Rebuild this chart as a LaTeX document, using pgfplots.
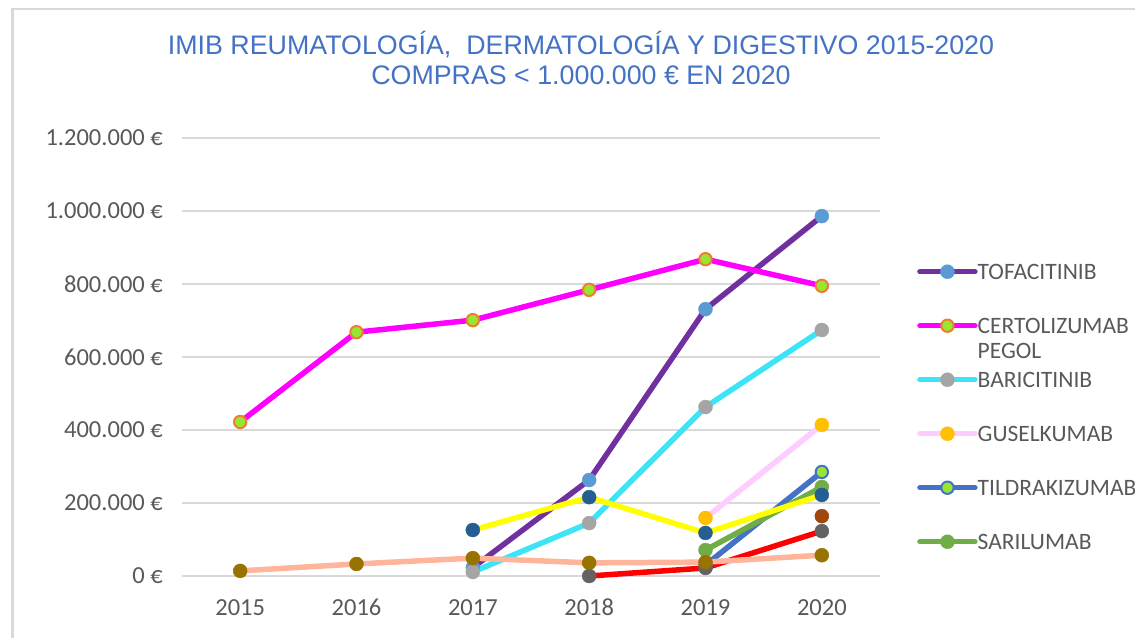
\documentclass[border=0pt]{standalone}
\usepackage{fontspec}
\setmainfont{Carlito}
\newfontfamily\titlefont{Liberation Sans}
\usepackage{pgfplots}
\pgfplotsset{compat=1.18}
\definecolor{gridgray}{HTML}{D9D9D9}
\definecolor{ticktext}{HTML}{595959}
\definecolor{titleblue}{HTML}{4472C4}
\definecolor{cPurple}{HTML}{7030A0}
\definecolor{cLtBlue}{HTML}{5B9BD5}
\definecolor{cMagenta}{HTML}{FF00FF}
\definecolor{cLime}{HTML}{99E632}
\definecolor{cOrange}{HTML}{ED7D31}
\definecolor{cCyan}{HTML}{3DE4F7}
\definecolor{cGray}{HTML}{A5A5A5}
\definecolor{cPink}{HTML}{FFCCFF}
\definecolor{cGold}{HTML}{FFC000}
\definecolor{cBlue}{HTML}{4472C4}
\definecolor{cGreen}{HTML}{70AD47}
\definecolor{cYellow}{HTML}{FFFF00}
\definecolor{cDkBlue}{HTML}{255E91}
\definecolor{cRed}{HTML}{FF0000}
\definecolor{cDkGray}{HTML}{636363}
\definecolor{cPeach}{HTML}{FFB59B}
\definecolor{cDkGold}{HTML}{997300}
\definecolor{cBrown}{HTML}{9E480E}
\pgfplotsset{
  solidser/.style n args={2}{draw=#1, mark=*, mark size=7pt, mark options={fill=#2, draw=#2, line width=0.4pt, solid}},
  ringser/.style n args={3}{draw=#1, mark=*, mark size=6.2pt, mark options={fill=#2, draw=#3, line width=2pt, solid}},
}
\begin{document}
\begin{tikzpicture}[x=1pt,y=1pt]
\useasboundingbox (0,0) rectangle (1135,638);
\draw[line width=2.5pt, gridgray] (12.5,0) -- (12.5,629) -- (1135,629);
\node[anchor=base, text=titleblue, font=\titlefont\fontsize{26.8}{30}\selectfont, inner sep=0pt] at (581,583) {IMIB REUMATOLOGÍA,\ \ DERMATOLOGÍA Y DIGESTIVO 2015-2020};
\node[anchor=base, text=titleblue, font=\titlefont\fontsize{26.8}{30}\selectfont, inner sep=0pt] at (581,553) {COMPRAS < 1.000.000 € EN 2020};
\begin{axis}[
  at={(182pt,62pt)}, anchor=south west, scale only axis,
  width=698pt, height=438pt,
  xmin=2014.5, xmax=2020.5, ymin=0, ymax=1200,
  clip=false,
  axis line style={draw=none}, tick style={draw=none},
  ymajorgrids, grid style={gridgray, line width=2pt},
  xtick={2015,2016,2017,2018,2019,2020},
  xticklabels={2015,2016,2017,2018,2019,2020},
  ytick={0,200,400,600,800,1000,1200},
  yticklabels={0 €,200.000 €,400.000 €,600.000 €,800.000 €,1.000.000 €,1.200.000 €},
  ticklabel style={font=\fontsize{24.5}{28}\selectfont, text=ticktext},
  yticklabel style={anchor=east, inner sep=0pt, xshift=-19pt},
  xticklabel style={anchor=north, inner sep=0pt, yshift=-23pt},
  every axis plot/.append style={line width=5.5pt, line join=round, line cap=round},
  legend style={at={(1.053,0.7123)}, anchor=north west, draw=none, fill=none, inner sep=0pt,
    row sep=39pt, font=\fontsize{23.5}{27}\selectfont, text=ticktext,
    nodes={inner sep=0pt, text height=15pt, text depth=0pt},
    /tikz/every even column/.append style={column sep=1pt}},
  legend cell align=left,
  legend image code/.code={\draw[mark repeat=2,mark phase=2] plot coordinates {(0pt,0pt) (27.5pt,0pt) (55pt,0pt)};},
]
\addplot[solidser={cPurple}{cLtBlue}] coordinates {(2017,23) (2018,263) (2019,731) (2020,986)};
\addlegendentry{TOFACITINIB}
\addplot[ringser={cMagenta}{cLime}{cOrange}] coordinates {(2015,422) (2016,668) (2017,701) (2018,784) (2019,868) (2020,795)};
\addlegendentry{\rlap{\raisebox{-25pt}[0pt][0pt]{PEGOL}}CERTOLIZUMAB}
\addplot[solidser={cCyan}{cGray}] coordinates {(2017,11) (2018,145) (2019,463) (2020,674)};
\addlegendentry{BARICITINIB}
\addplot[solidser={cPink}{cGold}] coordinates {(2019,159) (2020,414)};
\addlegendentry{GUSELKUMAB}
\addplot[ringser={cBlue}{cLime}{cBlue}] coordinates {(2019,30) (2020,285)};
\addlegendentry{TILDRAKIZUMAB}
\addplot[solidser={cGreen}{cGreen}] coordinates {(2019,71) (2020,244)};
\addlegendentry{SARILUMAB}
\addplot[solidser={cBrown}{cBrown}, forget plot] coordinates {(2020,164)};
\addplot[solidser={cRed}{cDkGray}, forget plot] coordinates {(2018,0) (2019,22) (2020,123)};
\addplot[solidser={cPeach}{cDkGold}, forget plot] coordinates {(2015,14) (2016,33) (2017,49) (2018,36) (2019,38) (2020,57)};
\addplot[solidser={cYellow}{cDkBlue}, forget plot] coordinates {(2017,126) (2018,216) (2019,118) (2020,222)};
\end{axis}
\end{tikzpicture}
\end{document}
